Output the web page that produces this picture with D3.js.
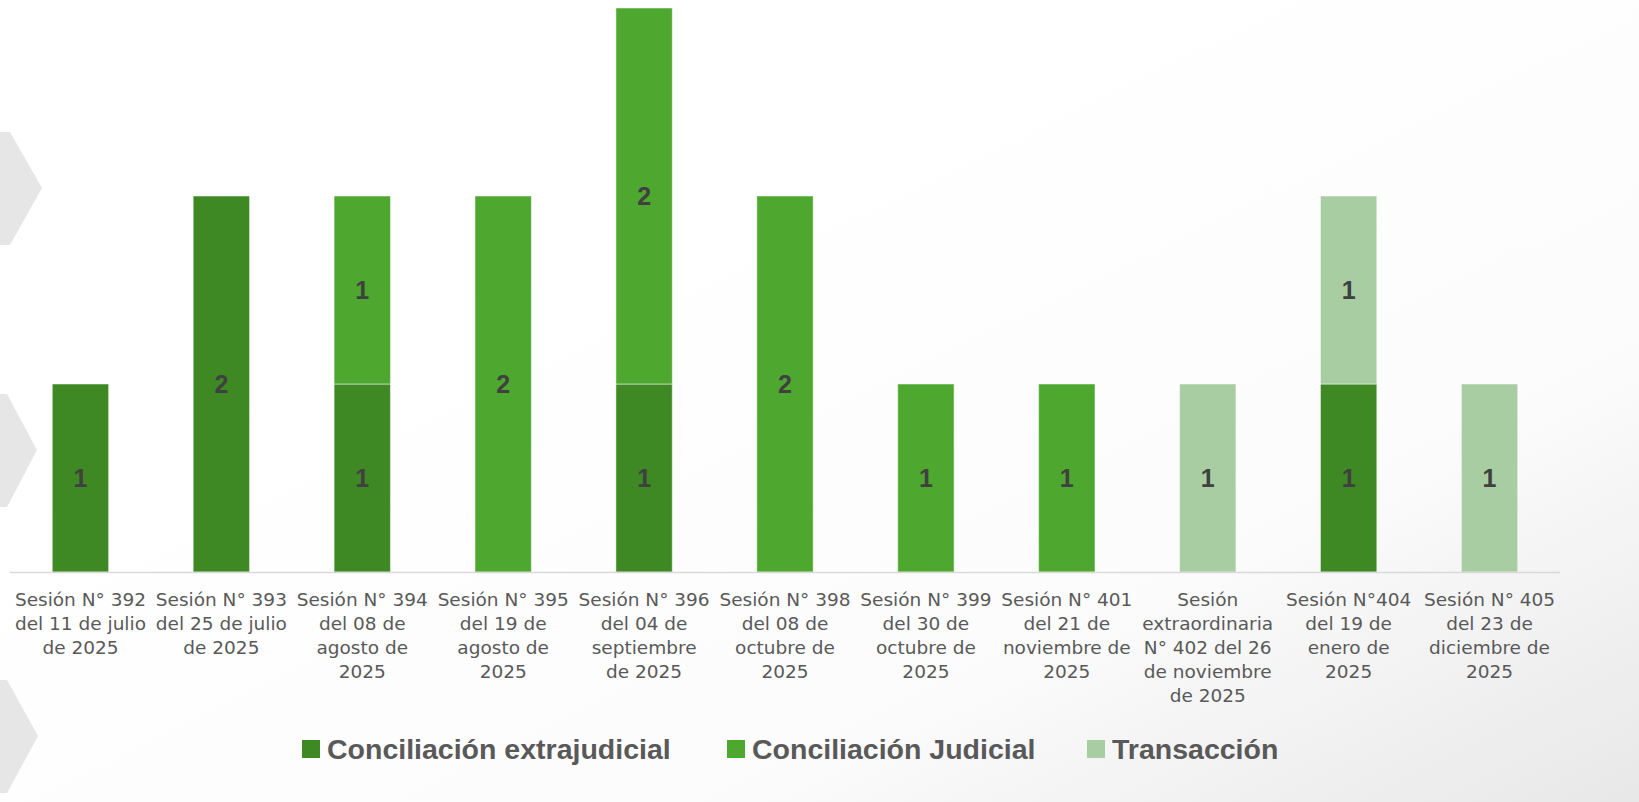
<!DOCTYPE html>
<html>
<head>
<meta charset="utf-8">
<script src="https://cdn.jsdelivr.net/npm/d3@7"></script>
<style>
  html, body { margin: 0; padding: 0; background: #ffffff; overflow: hidden; }
</style>
</head>
<body>
<div id="chart"></div>
<script>
// chart data
var categories = [
    "Sesión N° 392\ndel 11 de julio\nde 2025",
    "Sesión N° 393\ndel 25 de julio\nde 2025",
    "Sesión N° 394\ndel 08 de\nagosto de\n2025",
    "Sesión N° 395\ndel 19 de\nagosto de\n2025",
    "Sesión N° 396\ndel 04 de\nseptiembre\nde 2025",
    "Sesión N° 398\ndel 08 de\noctubre de\n2025",
    "Sesión N° 399\ndel 30 de\noctubre de\n2025",
    "Sesión N° 401\ndel 21 de\nnoviembre de\n2025",
    "Sesión\nextraordinaria\nN° 402 del 26\nde noviembre\nde 2025",
    "Sesión N°404\ndel 19 de\nenero de\n2025",
    "Sesión N° 405\ndel 23 de\ndiciembre de\n2025"
];
var seriesNames = ["Conciliación extrajudicial", "Conciliación Judicial", "Transacción"];
var extrajudicial = [1, 2, 1, 0, 1, 0, 0, 0, 0, 1, 0];
var judicial      = [0, 0, 1, 2, 2, 2, 1, 1, 0, 0, 0];
var transaccion   = [0, 0, 0, 0, 0, 0, 0, 0, 1, 1, 1];
var colors = ["#3e8924", "#4ea72e", "#a9cda2"];

var width = 1639, height = 802;
var margin = {top: 8, left: 10, right: 79, bottom: 230};

var svg = d3.select("#chart").append("svg")
    .attr("width", width)
    .attr("height", height);

// background: white with soft grey towards bottom right
var defs = svg.append("defs");
var grad = defs.append("linearGradient")
    .attr("id", "bg")
    .attr("x1", "0.3").attr("y1", "0.35")
    .attr("x2", "1").attr("y2", "1.05");
grad.append("stop").attr("offset", "0").attr("stop-color", "#ffffff");
grad.append("stop").attr("offset", "0.55").attr("stop-color", "#fcfcfc");
grad.append("stop").attr("offset", "1").attr("stop-color", "#e6e6e6");
svg.append("rect")
    .attr("width", width).attr("height", height)
    .attr("fill", "url(#bg)");

// decorative chevrons on the left edge
var chevrons = [
    [[0, 132], [10, 132], [42, 188], [10, 245], [0, 245]],
    [[0, 394], [7, 394], [37, 450], [7, 507], [0, 507]],
    [[0, 680], [7, 680], [38, 736], [7, 793], [0, 793]]
];
svg.selectAll(".chevron")
    .data(chevrons)
    .enter()
    .append("polygon")
    .attr("class", "chevron")
    .attr("points", function(d) { return d.map(function(p) { return p.join(","); }).join(" "); })
    .attr("fill", "#e6e6e6");

// stacked data
var rows = categories.map(function(c, i) {
    return {cat: c, s0: extrajudicial[i], s1: judicial[i], s2: transaccion[i]};
});
var stack = d3.stack().keys(["s0", "s1", "s2"]);
var stacked = stack(rows);

var plotBottom = 572;
var x = d3.scaleBand()
    .domain(categories)
    .range([margin.left, 1560])
    .paddingInner(0.6)
    .paddingOuter(0.3);
var y = d3.scaleLinear()
    .domain([0, 3])
    .range([plotBottom, margin.top]);

// bars
var layers = svg.selectAll(".layer")
    .data(stacked)
    .enter()
    .append("g")
    .attr("class", "layer")
    .attr("fill", function(d, i) { return colors[i]; });

layers.selectAll("rect")
    .data(function(d) { return d.filter(function(v) { return v[1] - v[0] > 0; }); })
    .enter()
    .append("rect")
    .attr("x", function(d) { return x(d.data.cat); })
    .attr("y", function(d) { return y(d[1]); })
    .attr("width", x.bandwidth())
    .attr("height", function(d) { return y(d[0]) - y(d[1]); })
    .attr("stroke", "rgba(255,255,255,0.5)")
    .attr("stroke-width", 1);

// value labels
layers.selectAll("text")
    .data(function(d) { return d.filter(function(v) { return v[1] - v[0] > 0; }); })
    .enter()
    .append("text")
    .attr("x", function(d) { return x(d.data.cat) + x.bandwidth() / 2; })
    .attr("y", function(d) { return (y(d[0]) + y(d[1])) / 2; })
    .attr("dy", "0.36em")
    .attr("text-anchor", "middle")
    .style("font-family", "'Liberation Sans', Arial, sans-serif")
    .style("font-weight", "bold")
    .style("font-size", "25px")
    .style("fill", "#404040")
    .text(function(d) { return d[1] - d[0]; });

// x axis
var xAxis = svg.append("g")
    .attr("transform", "translate(0," + plotBottom + ")")
    .call(d3.axisBottom(x).tickSize(0).tickFormat(""));
xAxis.select(".domain")
    .attr("stroke", "#d9d9d9")
    .attr("stroke-width", 1.5)
    .attr("d", "M10,0.5H1560");

var catLabels = svg.selectAll(".cat")
    .data(categories)
    .enter()
    .append("text")
    .attr("class", "cat")
    .attr("text-anchor", "middle")
    .style("font-family", "'DejaVu Sans', sans-serif")
    .style("font-size", "18.5px")
    .style("fill", "#595959");

catLabels.each(function(c) {
    var t = d3.select(this);
    c.split("\n").forEach(function(line, j) {
        t.append("tspan")
            .attr("x", x(c) + x.bandwidth() / 2)
            .attr("y", 606 + j * 24)
            .text(line);
    });
});

// legend
var legendPos = [302, 727, 1087];
var legend = svg.selectAll(".legend")
    .data(seriesNames)
    .enter()
    .append("g")
    .attr("class", "legend")
    .attr("transform", function(d, i) { return "translate(" + legendPos[i] + ",740)"; });

legend.append("rect")
    .attr("width", 18)
    .attr("height", 18)
    .attr("fill", function(d, i) { return colors[i]; });

legend.append("text")
    .attr("x", 25)
    .attr("y", 19)
    .style("font-family", "'Liberation Sans', Arial, sans-serif")
    .style("font-weight", "bold")
    .style("font-size", "28.5px")
    .style("fill", "#595959")
    .text(function(d) { return d; });
</script>
</body>
</html>
